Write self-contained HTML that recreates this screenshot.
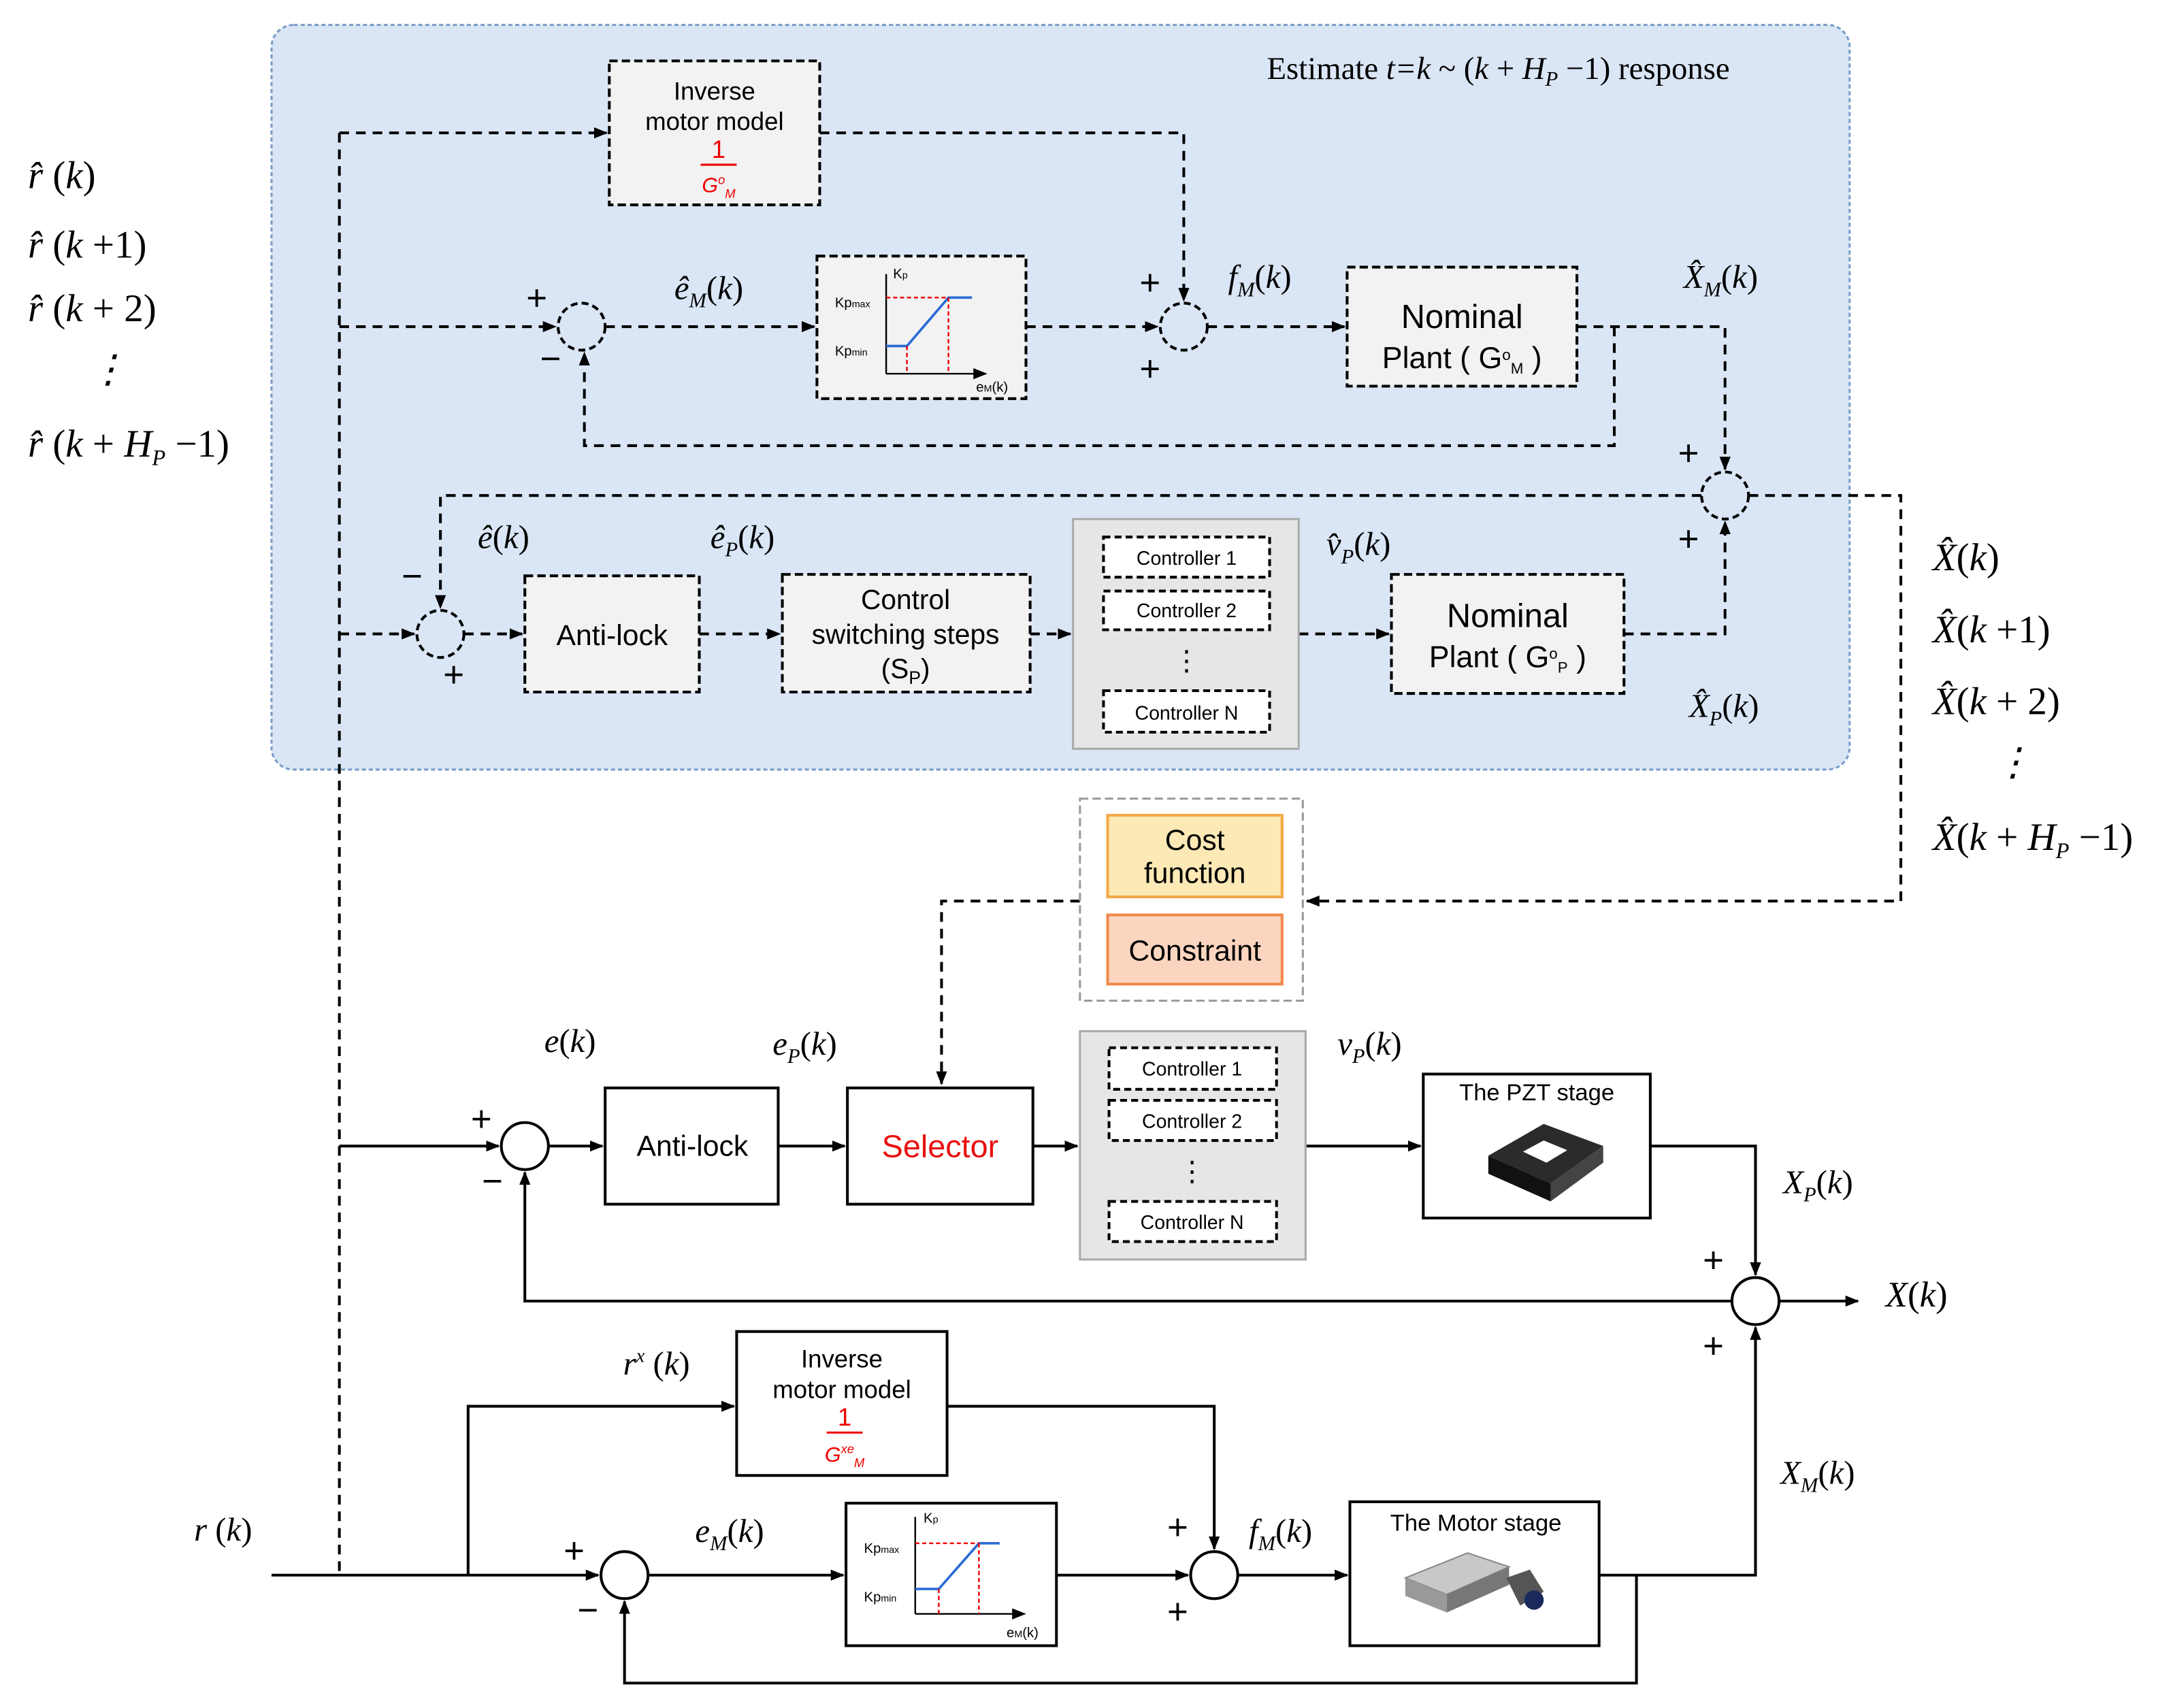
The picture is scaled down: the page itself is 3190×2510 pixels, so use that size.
<!DOCTYPE html>
<html><head><meta charset="utf-8"><style>
html,body{margin:0;padding:0;background:#fff}
svg{display:block}
.s{font-family:"Liberation Serif",serif;font-style:italic;font-size:24px}
.b{font-family:"Liberation Serif",serif;font-style:italic;font-size:28px}
.n{font-family:"Liberation Sans","DejaVu Sans",sans-serif}
.u{font-style:normal}
</style></head><body>
<svg width="3190" height="2510" viewBox="0 0 1568 1234" xmlns="http://www.w3.org/2000/svg">
<defs>
<marker id="a" markerWidth="10" markerHeight="8" refX="9" refY="4" orient="auto" markerUnits="userSpaceOnUse"><path d="M0,0 L10,4 L0,8 z" fill="#000"/></marker>
</defs>
<rect x="196" y="18" width="1140" height="538" rx="16" fill="#dae6f5" stroke="#7a9cc7" stroke-width="1.5" stroke-dasharray="3,2"/>
<text x="915" y="57" font-family="Liberation Serif,serif" font-size="23">Estimate <tspan font-style="italic">t=k</tspan> ~ (<tspan font-style="italic">k</tspan> + <tspan font-style="italic">H</tspan><tspan font-size="15" dy="5" font-style="italic">P</tspan><tspan dy="-5"> −1) response</tspan></text>

<!-- left labels -->
<g class="b"><text x="20" y="136">r̂ <tspan class="u">  (</tspan>k<tspan class="u">)</tspan></text>
<text x="20" y="186">r̂ <tspan class="u">  (</tspan>k <tspan class="u">+1)</tspan></text>
<text x="20" y="232">r̂ <tspan class="u">  (</tspan>k <tspan class="u">+ 2)</tspan></text>
<text x="64" y="276">⋮</text>
<text x="20" y="330">r̂ <tspan class="u">  (</tspan>k <tspan class="u">+ </tspan>H<tspan font-size="16" dy="6">P</tspan><tspan dy="-6" class="u"> −1)</tspan></text></g>
<g class="b"><text x="1396" y="412">X̂<tspan class="u">(</tspan>k<tspan class="u">)</tspan></text>
<text x="1396" y="464">X̂<tspan class="u">(</tspan>k <tspan class="u">+1)</tspan></text>
<text x="1396" y="516">X̂<tspan class="u">(</tspan>k <tspan class="u">+ 2)</tspan></text>
<text x="1440" y="560">⋮</text>
<text x="1396" y="614">X̂<tspan class="u">(</tspan>k <tspan class="u">+ </tspan>H<tspan font-size="16" dy="6">P</tspan><tspan dy="-6" class="u"> −1)</tspan></text></g>

<!-- dashed lines -->
<g stroke="#000" stroke-width="2" fill="none" stroke-dasharray="7,5">
<path d="M245,96 V1138"/>
<path d="M245,96 H438" marker-end="url(#a)"/>
<path d="M592,96 H855 V217" marker-end="url(#a)"/>
<path d="M245,236 H401" marker-end="url(#a)"/>
<path d="M437,236 H588" marker-end="url(#a)"/>
<path d="M741,236 H836" marker-end="url(#a)"/>
<path d="M872,236 H971" marker-end="url(#a)"/>
<path d="M1139,236 H1246 V339" marker-end="url(#a)"/>
<path d="M1166,236 V322 H422 V255" marker-end="url(#a)"/>
<path d="M1229,358 H318 V439" marker-end="url(#a)"/>
<path d="M1263,358 H1373 V651 H944" marker-end="url(#a)"/>
<path d="M245,458 H299" marker-end="url(#a)"/>
<path d="M335,458 H377" marker-end="url(#a)"/>
<path d="M505,458 H563" marker-end="url(#a)"/>
<path d="M744,458 H773" marker-end="url(#a)"/>
<path d="M938,458 H1003" marker-end="url(#a)"/>
<path d="M1173,458 H1246 V377" marker-end="url(#a)"/>
<path d="M780,651 H680 V783" marker-end="url(#a)"/>
</g>
<g fill="none" stroke="#000" stroke-width="2" stroke-dasharray="5,3">
<circle cx="420" cy="236" r="17"/><circle cx="855" cy="236" r="17"/><circle cx="1246" cy="358" r="17"/><circle cx="318" cy="458" r="17"/>
</g>
<g font-family="Liberation Sans,sans-serif" font-size="26">
<text x="380" y="224">+</text><text x="390" y="268">−</text><text x="823" y="213">+</text><text x="823" y="275">+</text>
<text x="1212" y="336">+</text><text x="1212" y="398">+</text><text x="290" y="425">−</text><text x="320" y="496">+</text>
</g>

<g stroke="#000" stroke-width="2" stroke-dasharray="6,3" fill="#f2f2f2">
<rect x="440" y="44" width="152" height="104"/>
<rect x="590" y="185" width="151" height="103"/>
<rect x="973" y="193" width="166" height="86"/>
<rect x="379" y="416" width="126" height="84"/>
<rect x="565" y="415" width="179" height="85"/>
<rect x="1005" y="415" width="168" height="86"/>
</g>
<rect x="775" y="375" width="163" height="166" fill="#e6e6e6" stroke="#aaa" stroke-width="1.5"/>
<g stroke="#000" stroke-width="2" stroke-dasharray="5,3" fill="#fff">
<rect x="797" y="388" width="120" height="29"/><rect x="797" y="427" width="120" height="28"/><rect x="797" y="499" width="120" height="30"/>
</g>
<g class="n" font-size="14" text-anchor="middle"><text x="857" y="408">Controller 1</text><text x="857" y="446">Controller 2</text><text x="857" y="520">Controller N</text><text x="857" y="484" font-size="20">⋮</text></g>
<g class="n" text-anchor="middle" font-size="18">
<text x="516" y="72">Inverse</text><text x="516" y="94">motor model</text>
<text x="519" y="114" fill="#e00">1</text><line x1="506" y1="119" x2="532" y2="119" stroke="#e00" stroke-width="1.5"/><text x="519" y="139" fill="#e00" font-size="15" font-style="italic">G<tspan font-size="9" dy="-6">o</tspan><tspan font-size="9" dy="10">M</tspan></text>
<text x="1056" y="237" font-size="24">Nominal</text><text x="1056" y="266" font-size="22">Plant ( G<tspan font-size="11" dy="-6">o</tspan><tspan font-size="11" dy="10">M</tspan><tspan dy="-4"> )</tspan></text>
<text x="442" y="466" font-size="21">Anti-lock</text>
<text x="654" y="440" font-size="20">Control</text><text x="654" y="465" font-size="20">switching steps</text><text x="654" y="490" font-size="20">(S<tspan font-size="13" dy="4">P</tspan><tspan dy="-4">)</tspan></text>
<text x="1089" y="453" font-size="24">Nominal</text><text x="1089" y="482" font-size="22">Plant ( G<tspan font-size="11" dy="-6">o</tspan><tspan font-size="11" dy="10">P</tspan><tspan dy="-4"> )</tspan></text>
</g>
<g fill="none" stroke-width="1.2">
<path d="M640,270 V198 M640,270 H712" stroke="#000" marker-end="url(#a)"/>
<path d="M640,250 H655 L685,215 H702" stroke="#2a6bd6" stroke-width="1.8"/>
<path d="M655,250 V270 M685,215 V270 M640,215 H685" stroke="#e00" stroke-dasharray="3,2"/>
</g>
<g class="n" font-size="10"><text x="603" y="222">Kp<tspan font-size="7">max</tspan></text><text x="603" y="257">Kp<tspan font-size="7">min</tspan></text><text x="645" y="201">K<tspan font-size="7">p</tspan></text><text x="705" y="283">e<tspan font-size="7">M</tspan>(k)</text></g>

<g class="s">
<text x="487" y="216">ê<tspan font-size="15" dy="6">M</tspan><tspan dy="-6" class="u">(</tspan>k<tspan class="u">)</tspan></text>
<text x="887" y="208">f<tspan font-size="15" dy="6">M</tspan><tspan dy="-6" class="u">(</tspan>k<tspan class="u">)</tspan></text>
<text x="1216" y="208">X̂<tspan font-size="15" dy="6">M</tspan><tspan dy="-6" class="u">(</tspan>k<tspan class="u">)</tspan></text>
<text x="345" y="396">ê<tspan class="u">(</tspan>k<tspan class="u">)</tspan></text>
<text x="513" y="396">ê<tspan font-size="15" dy="6">P</tspan><tspan dy="-6" class="u">(</tspan>k<tspan class="u">)</tspan></text>
<text x="958" y="401">v̂<tspan font-size="15" dy="6">P</tspan><tspan dy="-6" class="u">(</tspan>k<tspan class="u">)</tspan></text>
<text x="1220" y="518">X̂<tspan font-size="15" dy="6">P</tspan><tspan dy="-6" class="u">(</tspan>k<tspan class="u">)</tspan></text>
</g>

<rect x="780" y="577" width="161" height="146" fill="#fff" stroke="#999" stroke-width="1.5" stroke-dasharray="6,3"/>
<rect x="800" y="589" width="126" height="59" fill="#fde9b5" stroke="#f3a947" stroke-width="2"/>
<rect x="800" y="661" width="126" height="50" fill="#fbd5bf" stroke="#f08a4b" stroke-width="2"/>
<g class="n" font-size="21" text-anchor="middle"><text x="863" y="614">Cost</text><text x="863" y="638">function</text><text x="863" y="694">Constraint</text></g>

<g stroke="#000" stroke-width="2" fill="none">
<path d="M245,828 H360" marker-end="url(#a)"/>
<path d="M396,828 H435" marker-end="url(#a)"/>
<path d="M562,828 H610" marker-end="url(#a)"/>
<path d="M746,828 H778" marker-end="url(#a)"/>
<path d="M943,828 H1026" marker-end="url(#a)"/>
<path d="M1192,828 H1268 V921" marker-end="url(#a)"/>
<path d="M1251,940 H379 V847" marker-end="url(#a)"/>
<path d="M1285,940 H1342" marker-end="url(#a)"/>
<path d="M196,1138 H432" marker-end="url(#a)"/>
<path d="M338,1138 V1016 H530" marker-end="url(#a)"/>
<path d="M684,1016 H877 V1119" marker-end="url(#a)"/>
<path d="M468,1138 H609" marker-end="url(#a)"/>
<path d="M763,1138 H858" marker-end="url(#a)"/>
<path d="M894,1138 H973" marker-end="url(#a)"/>
<path d="M1155,1138 H1268 V959" marker-end="url(#a)"/>
<path d="M1182,1138 V1216 H451 V1157" marker-end="url(#a)"/>
<circle cx="379" cy="828" r="17"/><circle cx="1268" cy="940" r="17"/><circle cx="451" cy="1138" r="17"/><circle cx="877" cy="1138" r="17"/>
</g>
<g font-family="Liberation Sans,sans-serif" font-size="26">
<text x="340" y="817">+</text><text x="348" y="862">−</text><text x="1230" y="919">+</text><text x="1230" y="981">+</text>
<text x="407" y="1129">+</text><text x="417" y="1172">−</text><text x="843" y="1112">+</text><text x="843" y="1173">+</text>
</g>
<g stroke="#000" stroke-width="2" fill="#fff">
<rect x="437" y="786" width="125" height="84"/><rect x="612" y="786" width="134" height="84"/>
<rect x="1028" y="776" width="164" height="104"/>
<rect x="532" y="962" width="152" height="104"/><rect x="611" y="1086" width="152" height="103"/>
<rect x="975" y="1085" width="180" height="104"/>
</g>
<rect x="780" y="745" width="163" height="165" fill="#e6e6e6" stroke="#aaa" stroke-width="1.5"/>
<g stroke="#000" stroke-width="2" stroke-dasharray="5,3" fill="#fff">
<rect x="801" y="757" width="121" height="30"/><rect x="801" y="795" width="121" height="29"/><rect x="801" y="868" width="121" height="29"/>
</g>
<g class="n" font-size="14" text-anchor="middle"><text x="861" y="777">Controller 1</text><text x="861" y="815">Controller 2</text><text x="861" y="888">Controller N</text><text x="861" y="853" font-size="20">⋮</text></g>
<g class="n" text-anchor="middle">
<text x="500" y="835" font-size="21">Anti-lock</text>
<text x="679" y="836" font-size="23" fill="#e81010">Selector</text>
<text x="1110" y="795" font-size="17">The PZT stage</text>
<text x="608" y="988" font-size="18">Inverse</text><text x="608" y="1010" font-size="18">motor model</text>
<text x="610" y="1030" font-size="18" fill="#e00">1</text><line x1="597" y1="1035" x2="623" y2="1035" stroke="#e00" stroke-width="1.5"/><text x="610" y="1056" fill="#e00" font-size="15" font-style="italic">G<tspan font-size="9" dy="-6">xe</tspan><tspan font-size="9" dy="10">M</tspan></text>
<text x="1066" y="1106" font-size="17">The Motor stage</text>
</g>
<g>
<path d="M1075,835 L1115,812 L1158,828 L1120,855 Z" fill="#2b2b2b"/>
<path d="M1075,835 L1120,855 L1120,868 L1075,848 Z" fill="#111"/>
<path d="M1120,855 L1158,828 L1158,840 L1120,868 Z" fill="#444"/>
<path d="M1100,832 L1115,824 L1132,831 L1117,840 Z" fill="#fff"/>
</g>
<g>
<path d="M1015,1140 L1060,1122 L1090,1132 L1045,1152 Z" fill="#c8c8c8" stroke="#888"/>
<path d="M1015,1140 L1045,1152 L1045,1165 L1015,1153 Z" fill="#999"/>
<path d="M1045,1152 L1090,1132 L1090,1145 L1045,1165 Z" fill="#777"/>
<path d="M1088,1140 L1105,1134 L1115,1150 L1098,1160 Z" fill="#555"/>
<circle cx="1108" cy="1156" r="7" fill="#1a2a5a"/>
</g>
<g fill="none" stroke-width="1.2">
<path d="M661,1166 V1096 M661,1166 H740" stroke="#000" marker-end="url(#a)"/>
<path d="M661,1148 H678 L707,1115 H722" stroke="#2a6bd6" stroke-width="1.8"/>
<path d="M678,1148 V1166 M707,1115 V1166 M661,1115 H707" stroke="#e00" stroke-dasharray="3,2"/>
</g>
<g class="n" font-size="10"><text x="624" y="1122">Kp<tspan font-size="7">max</tspan></text><text x="624" y="1157">Kp<tspan font-size="7">min</tspan></text><text x="667" y="1100">K<tspan font-size="7">p</tspan></text><text x="727" y="1183">e<tspan font-size="7">M</tspan>(k)</text></g>

<g class="s">
<text x="393" y="760">e<tspan class="u">(</tspan>k<tspan class="u">)</tspan></text>
<text x="558" y="762">e<tspan font-size="15" dy="6">P</tspan><tspan dy="-6" class="u">(</tspan>k<tspan class="u">)</tspan></text>
<text x="966" y="762">v<tspan font-size="15" dy="6">P</tspan><tspan dy="-6" class="u">(</tspan>k<tspan class="u">)</tspan></text>
<text x="1288" y="862">X<tspan font-size="15" dy="6">P</tspan><tspan dy="-6" class="u">(</tspan>k<tspan class="u">)</tspan></text>
<text x="1362" y="944" font-size="26">X<tspan class="u">(</tspan>k<tspan class="u">)</tspan></text>
<text x="1286" y="1072">X<tspan font-size="15" dy="6">M</tspan><tspan dy="-6" class="u">(</tspan>k<tspan class="u">)</tspan></text>
<text x="450" y="993">r<tspan font-size="14" dy="-9">x</tspan><tspan dy="9" class="u"> (</tspan>k<tspan class="u">)</tspan></text>
<text x="502" y="1114">e<tspan font-size="15" dy="6">M</tspan><tspan dy="-6" class="u">(</tspan>k<tspan class="u">)</tspan></text>
<text x="902" y="1114">f<tspan font-size="15" dy="6">M</tspan><tspan dy="-6" class="u">(</tspan>k<tspan class="u">)</tspan></text>
<text x="140" y="1113">r <tspan class="u"> (</tspan>k<tspan class="u">)</tspan></text>
</g>
</svg>
</body></html>
